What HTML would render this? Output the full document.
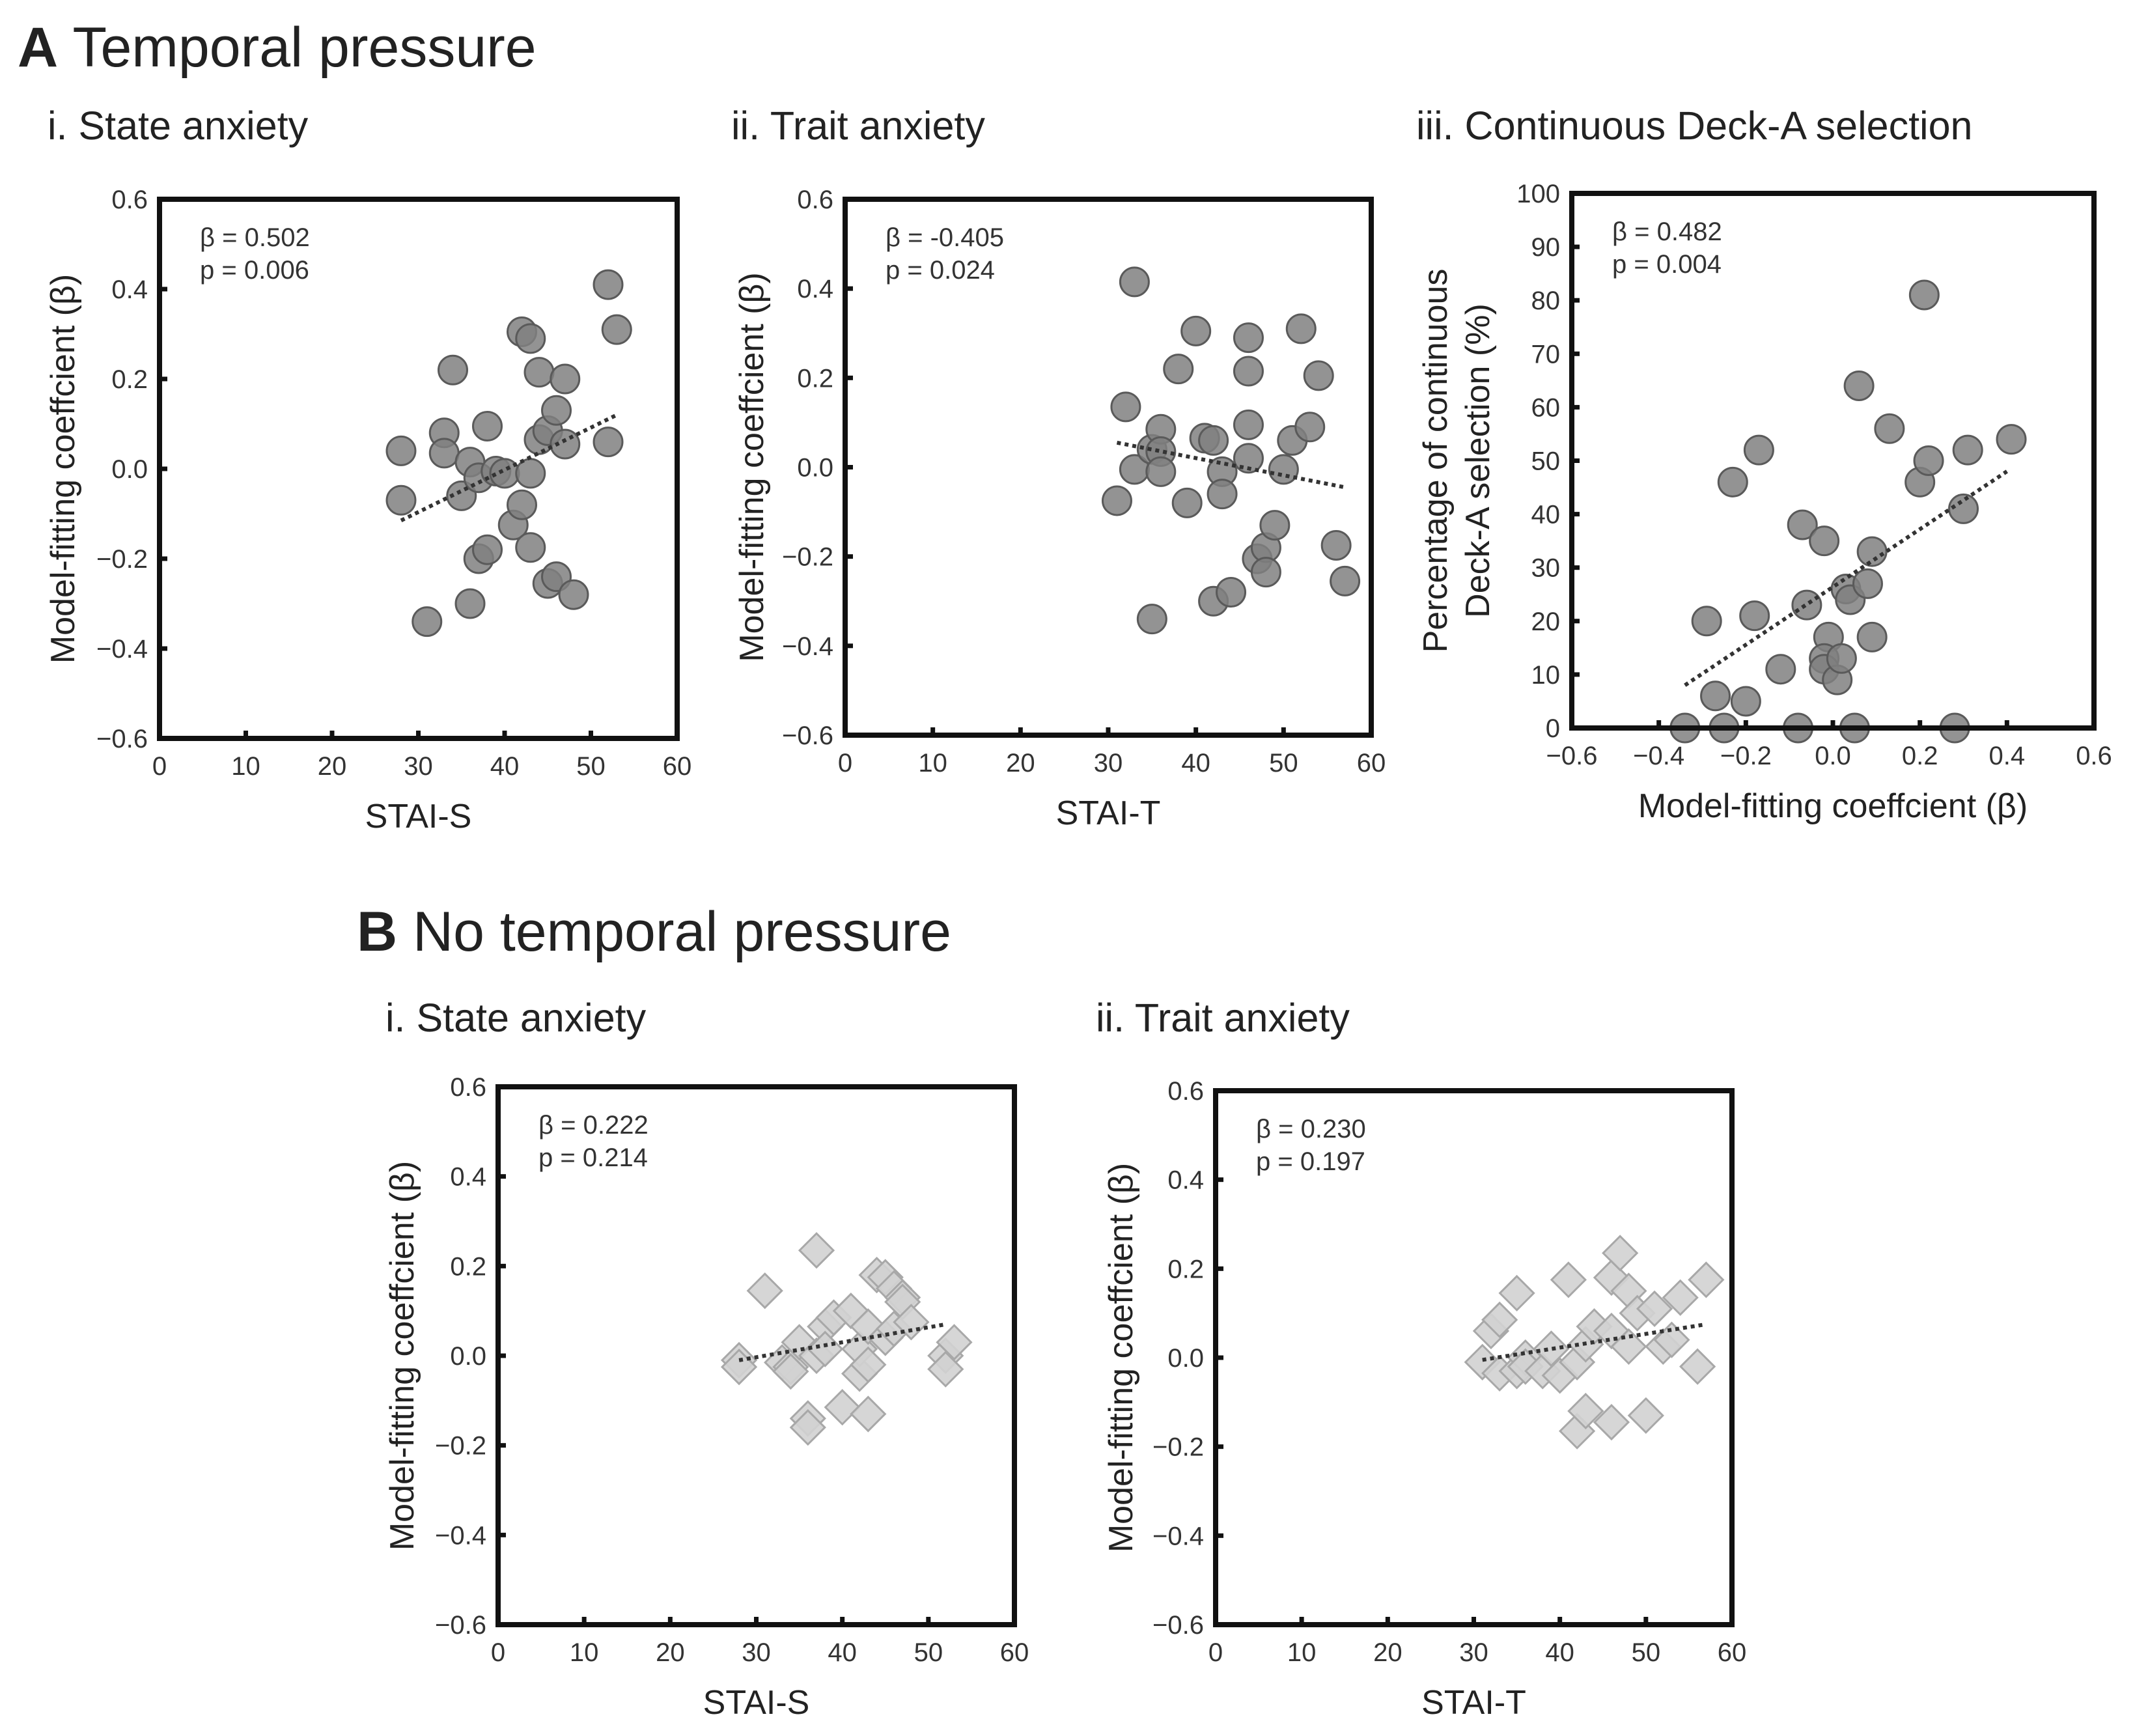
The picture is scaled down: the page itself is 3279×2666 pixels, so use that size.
<!DOCTYPE html>
<html><head><meta charset="utf-8">
<style>
html,body{margin:0;padding:0;background:#fff;}
svg{display:block;font-family:"Liberation Sans",Arial,sans-serif;}
</style></head>
<body>
<svg id="fig" width="3279" height="2666" viewBox="0 0 3279 2666">
<text x="27" y="102" font-size="86" fill="#222"><tspan font-weight="bold">A</tspan>  Temporal pressure</text>
<text x="73" y="214" font-size="61" fill="#222">i. State anxiety</text>
<text x="1123" y="214" font-size="61" fill="#222">ii. Trait anxiety</text>
<text x="2175" y="214" font-size="61" fill="#222">iii. Continuous Deck-A selection</text>
<text x="548" y="1460" font-size="86" fill="#222"><tspan font-weight="bold">B</tspan>  No temporal pressure</text>
<text x="592" y="1584" font-size="61" fill="#222">i. State anxiety</text>
<text x="1683" y="1584" font-size="61" fill="#222">ii. Trait anxiety</text>
</svg>
<script>
// ---- data ----
const aiX=[28,28,31,33,33,34,35,36,36,37,37,38,38,39,40,41,42,42,43,43,43,44,44,45,45,46,46,47,47,48,52,52,53];
const aiY=[0.04,-0.07,-0.34,0.08,0.035,0.22,-0.06,0.015,-0.3,-0.2,-0.02,0.095,-0.18,-0.005,-0.01,-0.125,0.305,-0.08,0.29,-0.01,-0.175,0.215,0.065,0.085,-0.255,0.13,-0.24,0.2,0.055,-0.28,0.41,0.06,0.31];
const aiTrend=[[28,-0.115],[53,0.12]];
const aiiX=[31,32,33,33,35,35,36,36,36,38,39,40,41,42,42,43,43,44,46,46,46,46,47,48,48,49,50,51,52,53,54,56,57];
const aiiY=[-0.075,0.135,0.415,-0.005,0.04,-0.34,0.085,0.035,-0.01,0.22,-0.08,0.305,0.065,0.06,-0.3,-0.01,-0.06,-0.28,0.29,0.215,0.095,0.02,-0.205,-0.18,-0.235,-0.13,-0.005,0.06,0.31,0.09,0.205,-0.175,-0.255];
const aiiTrend=[[31,0.055],[57,-0.045]];
const aiiiX=[-0.34,-0.29,-0.27,-0.25,-0.23,-0.2,-0.17,-0.18,-0.12,-0.08,-0.07,-0.06,-0.02,-0.01,-0.02,-0.02,0.01,0.02,0.03,0.04,0.05,0.06,0.08,0.09,0.09,0.13,0.2,0.21,0.22,0.28,0.3,0.31,0.41];
const aiiiY=[0,20,6,0,46,5,52,21,11,0,38,23,35,17,13,11,9,13,26,24,0,64,27,33,17,56,46,81,50,0,41,52,54];
const aiiiTrend=[[-0.34,8],[0.4,48]];
const biX=[28,28,31,33,34,34,35,36,36,37,37,38,38,39,40,41,42,42,43,43,43,44,45,45,46,46,47,47,48,52,52,53];
const biY=[-0.01,-0.025,0.145,-0.015,-0.025,-0.035,0.03,-0.14,-0.16,0.235,0.0,0.065,0.015,0.085,-0.115,0.1,-0.04,0.015,0.065,-0.02,-0.13,0.18,0.175,0.04,0.06,0.15,0.13,0.12,0.075,0.0,-0.03,0.03];
const biTrend=[[28,-0.01],[52,0.07]];
const biiX=[31,32,33,33,35,35,36,36,38,39,40,41,42,42,43,43,44,46,46,46,47,48,48,49,50,51,52,53,54,56,57];
const biiY=[-0.01,0.06,0.085,-0.035,0.145,-0.03,0.0,-0.02,-0.03,0.02,-0.04,0.175,-0.165,-0.01,-0.12,0.03,0.07,0.18,0.06,-0.145,0.235,0.15,0.025,0.1,-0.13,0.11,0.025,0.04,0.135,-0.02,0.175];
const biiTrend=[[31,-0.005],[57,0.075]];
const betaTicks=[-0.6,-0.4,-0.2,0.0,0.2,0.4,0.6];
const betaTickLabels=["\u22120.6","\u22120.4","\u22120.2","0.0","0.2","0.4","0.6"];
const staiTicks=[0,10,20,30,40,50,60];
const staiTickLabels=["0","10","20","30","40","50","60"];
const pctTicks=[0,10,20,30,40,50,60,70,80,90,100];
const pctTickLabels=["0","10","20","30","40","50","60","70","80","90","100"];

const NS="http://www.w3.org/2000/svg";
const svg=document.getElementById('fig');
function mk(tag,attrs,parent){const e=document.createElementNS(NS,tag);for(const k in attrs)e.setAttribute(k,attrs[k]);(parent||svg).appendChild(e);return e;}

function panel(p){
  const g=mk('g',{});
  
  
  const sx=v=>p.L+(v-p.xmin)/(p.xmax-p.xmin)*(p.R-p.L);
  const sy=v=>p.B-(v-p.ymin)/(p.ymax-p.ymin)*(p.B-p.T);
  for(let i=0;i<p.xs.length;i++){
    const cx=sx(p.xs[i]),cy=sy(p.ys[i]);
    let m;
    if(p.diamond){
      const r=26;
      m=mk('polygon',{points:`${cx},${cy-r} ${cx+r},${cy} ${cx},${cy+r} ${cx-r},${cy}`,fill:'#d2d2d2','fill-opacity':'0.9',stroke:'#a8a8a8','stroke-width':'3'},g);
    }else{
      m=mk('circle',{cx:cx,cy:cy,r:22,fill:'#808080','fill-opacity':'0.85',stroke:'#5a5a5a','stroke-width':'3'},g);
    }
    
    
  }
  const t=mk('line',{x1:sx(p.trend[0][0]),y1:sy(p.trend[0][1]),x2:sx(p.trend[1][0]),y2:sy(p.trend[1][1]),stroke:'#333','stroke-width':'6','stroke-dasharray':'6 6'},g);
  
  
  const f=mk('rect',{x:p.L,y:p.T,width:p.R-p.L,height:p.B-p.T,fill:'none',stroke:'#111','stroke-width':'8'},g);
  
  
  p.yt.forEach((v,i)=>{
    const y=sy(v);
    mk('line',{x1:p.L,y1:y,x2:p.L+12,y2:y,stroke:'#111','stroke-width':'7'},g);
    const tx=mk('text',{x:p.L-18,y:y+14,'font-size':'40','text-anchor':'end',fill:'#333'},g);
    tx.textContent=p.ytl[i];
    
    
  });
  p.xt.forEach((v,i)=>{
    const x=sx(v);
    mk('line',{x1:x,y1:p.B,x2:x,y2:p.B-12,stroke:'#111','stroke-width':'7'},g);
    const tx=mk('text',{x:x,y:p.B+56,'font-size':'40','text-anchor':'middle',fill:'#333'},g);
    tx.textContent=p.xtl[i];
    
    
  });
  const a1=mk('text',{x:p.L+62,y:p.T+72,'font-size':'40',fill:'#333'},g);
  a1.textContent=p.ann[0];
  
  
  const a2=mk('text',{x:p.L+62,y:p.T+122,'font-size':'40',fill:'#333','xml:space':'preserve'},g);
  a2.textContent=p.ann[1];
  
  
  const xt=mk('text',{x:(p.L+p.R)/2,y:p.B+137,'font-size':'52','text-anchor':'middle',fill:'#222'},g);
  xt.textContent=p.xtitle;
  
  
  p.ytitle.forEach((s,i)=>{
    const cx=p.ytx[i],cy=(p.T+p.B)/2;
    const yt=mk('text',{x:cx,y:cy,'font-size':'52','text-anchor':'middle',fill:'#222',transform:`rotate(-90 ${cx} ${cy})`},g);
    yt.textContent=s;
    
    
  });
}

const betaTitle=["Model-fitting coeffcient (\u03b2)"];
panel({name:'chart-a-i',L:245,R:1040,T:306,B:1134,xmin:0,xmax:60,ymin:-0.6,ymax:0.6,xs:aiX,ys:aiY,trend:aiTrend,
 xt:staiTicks,xtl:staiTickLabels,yt:betaTicks,ytl:betaTickLabels,ann:["\u03b2 = 0.502","p = 0.006"],xtitle:"STAI-S",ytitle:betaTitle,ytx:[114]});
panel({name:'chart-a-ii',L:1298,R:2106,T:306,B:1129,xmin:0,xmax:60,ymin:-0.6,ymax:0.6,xs:aiiX,ys:aiiY,trend:aiiTrend,
 xt:staiTicks,xtl:staiTickLabels,yt:betaTicks,ytl:betaTickLabels,ann:["\u03b2 = -0.405","p =   0.024"],xtitle:"STAI-T",ytitle:betaTitle,ytx:[1172]});
panel({name:'chart-a-iii',L:2414,R:3216,T:297,B:1118,xmin:-0.6,xmax:0.6,ymin:0,ymax:100,xs:aiiiX,ys:aiiiY,trend:aiiiTrend,
 xt:betaTicks,xtl:betaTickLabels,yt:pctTicks,ytl:pctTickLabels,ann:["\u03b2 = 0.482","p = 0.004"],xtitle:"Model-fitting coeffcient (\u03b2)",ytitle:["Percentage of continuous","Deck-A selection (%)"],ytx:[2222,2287]});
panel({name:'chart-b-i',L:765,R:1558,T:1669,B:2495,xmin:0,xmax:60,ymin:-0.6,ymax:0.6,xs:biX,ys:biY,trend:biTrend,diamond:true,
 xt:staiTicks,xtl:staiTickLabels,yt:betaTicks,ytl:betaTickLabels,ann:["\u03b2 = 0.222","p = 0.214"],xtitle:"STAI-S",ytitle:betaTitle,ytx:[635]});
panel({name:'chart-b-ii',L:1867,R:2660,T:1675,B:2495,xmin:0,xmax:60,ymin:-0.6,ymax:0.6,xs:biiX,ys:biiY,trend:biiTrend,diamond:true,
 xt:staiTicks,xtl:staiTickLabels,yt:betaTicks,ytl:betaTickLabels,ann:["\u03b2 = 0.230","p = 0.197"],xtitle:"STAI-T",ytitle:betaTitle,ytx:[1739]});
</script>
</body></html>
